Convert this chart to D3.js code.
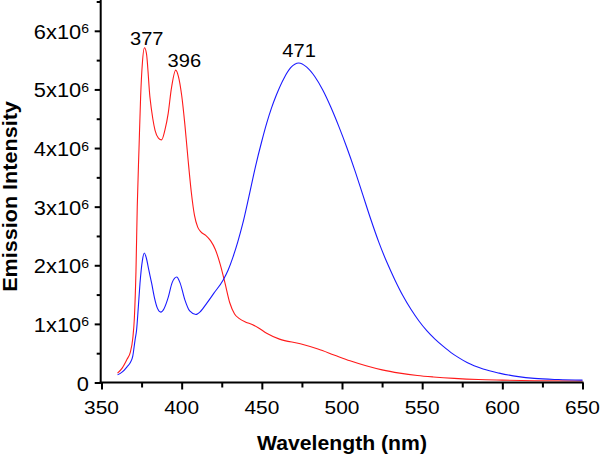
<!DOCTYPE html>
<html>
<head>
<meta charset="utf-8">
<script src="https://cdn.jsdelivr.net/npm/d3@7"></script>
<style>
  html, body { margin: 0; padding: 0; background: #fff; }
  svg { display: block; }
  text { font-family: "Liberation Sans", Arial, Helvetica, sans-serif; fill: #000; }
</style>
</head>
<body>
<svg id="chart" width="600" height="455"></svg>
<script>
// ---- data (intensity in counts) ----
const redWavelength = [360, 363, 366, 368, 369.5, 370.5, 371.5, 372.3, 373.4, 374.4, 375.5, 376.8, 378, 380.2, 382, 383.4, 385.5, 387.5, 389.5, 391.6, 393.5, 396.3, 398, 400, 402, 404, 406, 408, 410, 412, 415, 418, 421, 424, 427, 430, 433, 436, 440, 444, 448, 453, 461, 474, 485, 495, 505, 515, 525, 536, 547, 557, 570, 585, 600, 620, 650];
const redIntensity = [0.16e6, 0.25e6, 0.40e6, 0.52e6, 0.75e6, 1.1e6, 1.9e6, 3.0e6, 4.0e6, 4.87e6, 5.45e6, 5.71e6, 5.62e6, 4.87e6, 4.50e6, 4.30e6, 4.17e6, 4.14e6, 4.30e6, 4.59e6, 5.0e6, 5.33e6, 5.22e6, 4.90e6, 4.40e6, 3.80e6, 3.25e6, 2.85e6, 2.65e6, 2.57e6, 2.51e6, 2.42e6, 2.27e6, 2.02e6, 1.70e6, 1.36e6, 1.17e6, 1.09e6, 1.03e6, 0.99e6, 0.93e6, 0.84e6, 0.74e6, 0.66e6, 0.57e6, 0.47e6, 0.37e6, 0.285e6, 0.215e6, 0.16e6, 0.12e6, 0.095e6, 0.07e6, 0.05e6, 0.04e6, 0.03e6, 0.025e6];

const blueWavelength = [360, 363, 366, 368, 369.5, 370.9, 371.9, 373, 374, 375.5, 376.7, 378, 379.5, 381.3, 383, 385, 387, 389, 391.7, 394, 396.9, 399, 402, 405, 408.9, 412, 415.6, 420, 425.9, 429, 432, 435, 438, 442, 446, 450, 453, 456, 459, 464, 468, 473, 478, 483, 488, 493, 498, 503, 508, 513, 518, 523, 528, 533, 538, 543, 548, 553, 558, 563, 568, 573, 578, 588, 598, 610, 620, 635, 650];
const blueIntensity = [0.13e6, 0.18e6, 0.27e6, 0.34e6, 0.45e6, 0.72e6, 0.9e6, 1.3e6, 1.69e6, 2.08e6, 2.21e6, 2.12e6, 1.92e6, 1.69e6, 1.45e6, 1.26e6, 1.20e6, 1.26e6, 1.46e6, 1.70e6, 1.80e6, 1.70e6, 1.41e6, 1.22e6, 1.16e6, 1.22e6, 1.35e6, 1.52e6, 1.75e6, 1.92e6, 2.14e6, 2.40e6, 2.70e6, 3.18e6, 3.68e6, 4.12e6, 4.42e6, 4.68e6, 4.90e6, 5.20e6, 5.37e6, 5.45e6, 5.38e6, 5.22e6, 4.99e6, 4.70e6, 4.37e6, 4.01e6, 3.62e6, 3.20e6, 2.78e6, 2.39e6, 2.05e6, 1.75e6, 1.48e6, 1.25e6, 1.05e6, 0.88e6, 0.74e6, 0.62e6, 0.51e6, 0.42e6, 0.34e6, 0.23e6, 0.16e6, 0.10e6, 0.07e6, 0.05e6, 0.04e6];

const xTicks = [350, 400, 450, 500, 550, 600, 650];
const xTickLabels = ["350", "400", "450", "500", "550", "600", "650"];
const yTicks = [0, 1e6, 2e6, 3e6, 4e6, 5e6, 6e6];
const yTickMantissa = ["0", "1x10", "2x10", "3x10", "4x10", "5x10", "6x10"];
const yTickExponent = ["", "6", "6", "6", "6", "6", "6"];

const peakLabels = ["377", "396", "471"];
const peakLabelX = [378.2, 401.7, 473.2];
const peakLabelY = [5.75e6, 5.39e6, 5.55e6];

const xTitle = "Wavelength (nm)";
const yTitle = "Emission Intensity";

// ---- layout ----
const svg = d3.select("#chart");
const x = d3.scaleLinear().domain([350, 650]).range([101.5, 582.5]);
const y = d3.scaleLinear().domain([0, 6.5e6]).range([382.5, 1.5]);

const SX = 1.1; // horizontal stretch of the glyphs

// curves
const line = d3.line()
  .x(d => x(d[0]))
  .y(d => y(d[1]))
  .curve(d3.curveMonotoneX);

svg.append("path")
  .datum(redWavelength.map((w, i) => [w, redIntensity[i]]))
  .attr("d", line)
  .attr("fill", "none")
  .attr("stroke", "#ff1a1a")
  .attr("stroke-width", 1.1);

svg.append("path")
  .datum(blueWavelength.map((w, i) => [w, blueIntensity[i]]))
  .attr("d", line)
  .attr("fill", "none")
  .attr("stroke", "#1a1aff")
  .attr("stroke-width", 1.1);

// axes (lines and ticks via d3 axes)
const xMinor = d3.range(375, 650, 50);
const yMinor = d3.range(0.5e6, 7e6, 1e6);

const gx = svg.append("g").attr("transform", `translate(0,${y(0)})`);
gx.call(d3.axisBottom(x).tickValues(xTicks).tickSize(7).tickSizeOuter(0).tickFormat(""));
gx.append("g").call(d3.axisBottom(x).tickValues(xMinor).tickSize(5).tickSizeOuter(0).tickFormat(""))
  .select(".domain").remove();

const gy = svg.append("g").attr("transform", `translate(${x(350) - 0.8},0)`);
gy.call(d3.axisLeft(y).tickValues(yTicks).tickSize(6).tickSizeOuter(0).tickFormat(""));
gy.append("g").call(d3.axisLeft(y).tickValues(yMinor).tickSize(4).tickSizeOuter(0).tickFormat(""))
  .select(".domain").remove();

svg.selectAll(".domain").attr("stroke", "#000").attr("stroke-width", 2);
svg.selectAll(".tick line").attr("stroke", "#000").attr("stroke-width", 2);
// extend axes so they meet at the corner
gx.select(".domain").attr("d", `M${x(350) - 1.8},0H${x(650) + 1}`);
gy.select(".domain").attr("d", `M0,0V${y(0) + 1}`);

// x tick labels
xTicks.forEach((v, i) => {
  svg.append("g").attr("transform", `translate(${x(v)},414)`)
    .append("text").attr("transform", `scale(${SX},1)`)
    .attr("text-anchor", "middle").attr("font-size", 19)
    .text(xTickLabels[i]);
});

// y tick labels with superscript
yTicks.forEach((v, i) => {
  const t = svg.append("g").attr("transform", `translate(89,${y(v) + 8})`)
    .append("text").attr("transform", `scale(1.12,1)`)
    .attr("text-anchor", "end").attr("font-size", 19.5);
  t.append("tspan").text(yTickMantissa[i]);
  if (yTickExponent[i]) {
    t.append("tspan").attr("font-size", 12.5).attr("dy", -5.5).text(yTickExponent[i]);
  }
});

// peak annotations
peakLabels.forEach((lab, i) => {
  svg.append("g").attr("transform", `translate(${x(peakLabelX[i])},${y(peakLabelY[i])})`)
    .append("text").attr("transform", `scale(1.06,1)`)
    .attr("text-anchor", "middle").attr("font-size", 19)
    .text(lab);
});

// axis titles
svg.append("g").attr("transform", `translate(342,450)`)
  .append("text").attr("transform", `scale(1.06,1)`)
  .attr("text-anchor", "middle").attr("font-size", 20).attr("font-weight", "bold")
  .text(xTitle);

svg.append("g").attr("transform", `translate(17,196.5) rotate(-90)`)
  .append("text").attr("transform", `scale(1.08,1)`)
  .attr("text-anchor", "middle").attr("font-size", 20).attr("font-weight", "bold")
  .text(yTitle);
</script>
</body>
</html>
